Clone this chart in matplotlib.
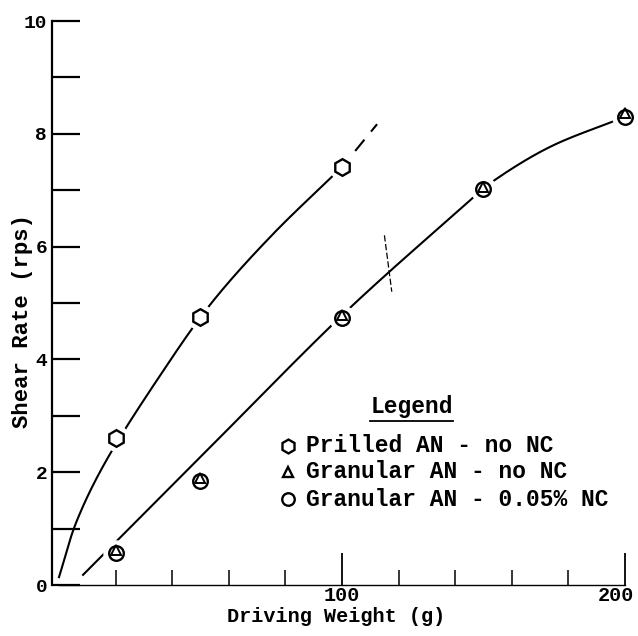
import numpy as np
import matplotlib
matplotlib.use("Agg")
import matplotlib.pyplot as plt
import matplotlib.transforms as mtransforms
from matplotlib.lines import Line2D

plt.rcParams['font.family'] = ['Liberation Mono', 'DejaVu Sans Mono']
plt.rcParams['font.weight'] = 'bold'
plt.rcParams['axes.labelweight'] = 'bold'

# data
prilled_x = [20, 50, 100]
prilled_y = [2.6, 4.76, 7.41]

gran_x = [20, 50, 100, 150, 200]
gran_nonc_y = [0.62, 1.90, 4.78, 7.06, 8.37]      # triangles
gran_nc_y = [0.56, 1.84, 4.74, 7.02, 8.30]        # circles

# hand drawn fit lines (anchor points)
upper_x = [0, 6.4, 17.3, 35, 53.4, 75, 100]
upper_y = [0.14, 1.15, 2.26, 3.66, 4.97, 6.19, 7.41]
upper_ext_x = [100, 112.4]
upper_ext_y = [7.41, 8.17]
lower_x = [8.5, 50, 100, 141.7, 153.4, 174, 200]
lower_y = [0.18, 2.27, 4.78, 6.66, 7.16, 7.78, 8.30]

# stray pencil mark on the lower curve
mark_x = [115.0, 117.6]
mark_y = [6.2, 5.2]

legend_labels = ["Prilled AN - no NC", "Granular AN - no NC",
                 "Granular AN - 0.05% NC"]


def catmull(xs, ys, n=40):
    # smooth line through the anchor points
    p = np.column_stack([xs, ys]).astype(float)
    p = np.vstack([2 * p[0] - p[1], p, 2 * p[-1] - p[-2]])
    out = []
    t = np.linspace(0, 1, n)[:, None]
    for i in range(1, len(p) - 2):
        p0, p1, p2, p3 = p[i - 1], p[i], p[i + 1], p[i + 2]
        seg = 0.5 * ((2 * p1) + (-p0 + p2) * t
                     + (2 * p0 - 5 * p1 + 4 * p2 - p3) * t ** 2
                     + (-p0 + 3 * p1 - 3 * p2 + p3) * t ** 3)
        out.append(seg if i == 1 else seg[1:])
    out = np.vstack(out)
    return out[:, 0], out[:, 1]


W, H = 638, 636
fig = plt.figure(figsize=(W / 100, H / 100), dpi=100)
ax = fig.add_axes([52 / W, 1 - 585 / H, 584 / W, 564 / H])

ax.set_xlim(-2.47, 203.9)
ax.set_ylim(0, 10)

for s in ['top', 'right']:
    ax.spines[s].set_visible(False)
ax.spines['left'].set_linewidth(1.6)
ax.spines['left'].set_bounds(0, 10)
ax.spines['bottom'].set_linewidth(1.0)
ax.spines['bottom'].set_bounds(0, 200)

ax.set_xticks([100, 200])
ax.set_xticks([20, 40, 60, 80, 120, 140, 160, 180], minor=True)
ax.set_yticks([0, 2, 4, 6, 8, 10])
ax.set_yticks([1, 3, 5, 7, 9], minor=True)
ax.tick_params(axis='x', which='major', direction='in', length=23, width=1.3,
               pad=1, labelsize=14.5)
ax.tick_params(axis='x', which='minor', direction='in', length=11, width=1.1)
ax.tick_params(axis='y', which='both', direction='in', length=20, width=1.6,
               pad=3.5, labelsize=14)
# the "200" sits a little left of its tick so it fits on the page
last = ax.get_xticklabels()[-1]
last.set_transform(last.get_transform()
                   + mtransforms.ScaledTranslation(-9 / 100, 0, fig.dpi_scale_trans))

ax.set_xlabel("Driving Weight (g)", fontsize=14.5)
ax.xaxis.set_label_coords((336 - 52) / 584, (585 - 607) / 564)
ax.set_ylabel("Shear Rate (rps)", fontsize=16)
ax.yaxis.set_label_coords((33 - 52) / 584, (585 - 321) / 564)

# fit lines
ux, uy = catmull(upper_x, upper_y)
ax.plot(ux, uy, color='black', lw=1.5, zorder=2)
ax.plot(upper_ext_x, upper_ext_y, color='black', lw=1.5, ls=(2, (7, 5)), zorder=2)
lx, ly = catmull(lower_x, lower_y)
ax.plot(lx, ly, color='black', lw=1.5, zorder=2)
ax.plot(mark_x, mark_y, color='black', lw=0.9, ls=(0, (5, 2)), zorder=2)

# white halo round the points, the drawn line stops short of them
ax.plot(prilled_x, prilled_y, ls='none', marker='o', ms=19, mfc='white',
        mec='none', zorder=3)
ax.plot(gran_x, gran_nc_y, ls='none', marker='o', ms=19, mfc='white',
        mec='none', zorder=3)

# data points
ax.plot(prilled_x, prilled_y, ls='none', marker='h', ms=12, mfc='white',
        mec='black', mew=1.7, zorder=4, clip_on=False)
ax.plot(gran_x, gran_nc_y, ls='none', marker='o', ms=10.5, mfc='white',
        mec='black', mew=1.7, zorder=4, clip_on=False)
ax.plot(gran_x, gran_nonc_y, ls='none', marker='^', ms=7.5, mfc='none',
        mec='black', mew=1.4, zorder=5, clip_on=False)

# legend block, drawn by hand like the original
fig.text(412 / W, 1 - 407 / H, "Legend", fontsize=16.5, ha='center', va='center')
fig.add_artist(Line2D([370 / W, 453 / W], [1 - 421 / H, 1 - 421 / H],
                      color='black', lw=1.3))
rows = [446, 472, 499]
marks = [('h', 10), ('^', 7), ('o', 9)]
for (m, ms), lab, y in zip(marks, legend_labels, rows):
    fig.add_artist(Line2D([288 / W], [1 - y / H], marker=m, ms=ms, mfc='white',
                          mec='black', mew=1.7, ls='none'))
    fig.text(306 / W, 1 - y / H, lab, fontsize=16.5, ha='left', va='center')

fig.savefig("out.png", dpi=100)
